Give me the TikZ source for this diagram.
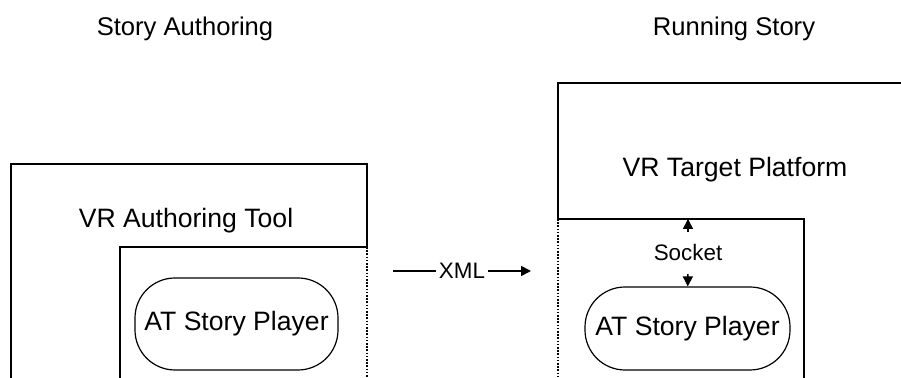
\documentclass[tikz,border=0pt]{standalone}
\usepackage{fontspec}
\setmainfont{Liberation Sans}
\usetikzlibrary{positioning,arrows.meta}

\begin{document}
\begin{tikzpicture}[
    x=0.5pt, y=-0.5pt,
    line width=0.8pt,
    title/.style={anchor=base, inner sep=0pt, font=\fontsize{12.8}{15}\selectfont},
    label/.style={anchor=base, inner sep=0pt, font=\fontsize{13.3}{16}\selectfont},
    small/.style={inner xsep=1pt, inner ysep=5pt, font=\fontsize{11.2}{13}\selectfont},
    pill/.style={draw, line width=0.6pt, rounded corners=20pt, inner sep=0pt, align=center, font=\fontsize{13.3}{16}\selectfont},
    arrow/.style={-{Triangle[length=5pt, width=5pt]}},
    edge/.style={dash pattern=on 0.8pt off 0.8pt}
]
\useasboundingbox (0,0) rectangle (901,378);
% titles
\node[title] (authoring) at (185,36) {Story Authoring};
\node[title] (running) at (734,36) {Running Story};
% authoring side
\draw (11,378) -- (11,164) -- (367,164) -- (367,247) -- (120,247) -- (120,378);
\draw[edge] (367,247) -- (367,378);
\node[label] (tool) at (186,228) {VR Authoring Tool};
\node[pill, minimum width=101.5pt, minimum height=46pt] (playerA) at (236.5,324) {AT Story Player};
% running side
\draw (558,219) -- (558,83) -- (905,83);
\draw (558,219) -- (804,219) -- (804,378);
\draw[edge] (558,219) -- (558,378);
\node[label] (platform) at (735,177) {VR Target Platform};
\node[pill, minimum width=102.5pt, minimum height=41.5pt] (playerB) at (687.5,328.5) {AT Story Player};
\node[small, anchor=base, inner ysep=6pt] (socket) at (688,261) {Socket};
\coordinate (port) at (688,219);
\draw[arrow] (socket) -- (port);
\draw[arrow] (socket) -- (playerB);
% transfer
\node[small, inner ysep=0pt] (xml) at (462,271) {XML};
\coordinate (xmlin) at (393,271);
\coordinate (xmlout) at (531,271);
\draw (xmlin) -- (xml);
\draw[arrow] (xml) -- (xmlout);
\end{tikzpicture}
\end{document}
